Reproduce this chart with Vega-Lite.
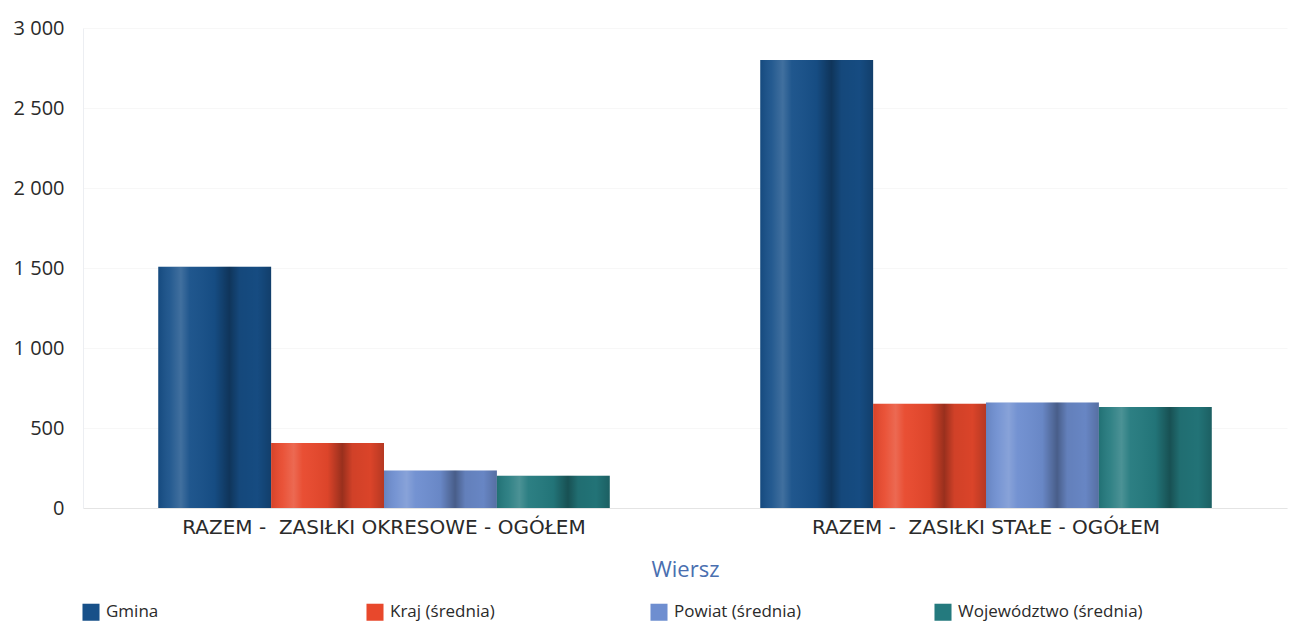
{
  "$schema": "https://vega.github.io/schema/vega-lite/v6.json",
  "width": 1204,
  "height": 480,
  "autosize": {"type": "none"},
  "padding": {"left": 83, "top": 28, "right": 3, "bottom": 119},
  "background": "white",
  "config": {
    "font": "Open Sans",
    "view": {"stroke": null},
    "axis": {"labelFont": "Open Sans", "titleFont": "Open Sans"}
  },
  "data": {
    "values": [
      {"wiersz": "RAZEM -\u00a0 ZASIŁKI OKRESOWE - OGÓŁEM", "seria": "Gmina", "wartosc": 1508},
      {"wiersz": "RAZEM -\u00a0 ZASIŁKI OKRESOWE - OGÓŁEM", "seria": "Kraj (średnia)", "wartosc": 406},
      {"wiersz": "RAZEM -\u00a0 ZASIŁKI OKRESOWE - OGÓŁEM", "seria": "Powiat (średnia)", "wartosc": 235},
      {"wiersz": "RAZEM -\u00a0 ZASIŁKI OKRESOWE - OGÓŁEM", "seria": "Województwo (średnia)", "wartosc": 202},
      {"wiersz": "RAZEM -\u00a0 ZASIŁKI STAŁE - OGÓŁEM", "seria": "Gmina", "wartosc": 2800},
      {"wiersz": "RAZEM -\u00a0 ZASIŁKI STAŁE - OGÓŁEM", "seria": "Kraj (średnia)", "wartosc": 652},
      {"wiersz": "RAZEM -\u00a0 ZASIŁKI STAŁE - OGÓŁEM", "seria": "Powiat (średnia)", "wartosc": 659},
      {"wiersz": "RAZEM -\u00a0 ZASIŁKI STAŁE - OGÓŁEM", "seria": "Województwo (średnia)", "wartosc": 632}
    ]
  },
  "encoding": {
    "x": {
      "field": "wiersz",
      "type": "nominal",
      "sort": null,
      "scale": {"paddingInner": 0.25, "paddingOuter": 0.125},
      "axis": {
        "title": "Wiersz",
        "titleColor": "#4a6fb0",
        "titleFontSize": 22,
        "titleFontWeight": "normal",
        "titlePadding": 22,
        "labelAngle": 0,
        "labelFont": "DejaVu Sans",
        "labelFontSize": 20,
        "labelColor": "#2a2a2a",
        "labelPadding": 9,
        "labelLimit": 700,
        "ticks": false,
        "domainColor": "#e4e4e4",
        "grid": false
      }
    },
    "xOffset": {
      "field": "seria",
      "type": "nominal",
      "scale": {"domain": ["Gmina", "Kraj (średnia)", "Powiat (średnia)", "Województwo (średnia)"], "paddingInner": 0, "paddingOuter": 0}
    },
    "y": {
      "field": "wartosc",
      "type": "quantitative",
      "scale": {"domain": [0, 3000]},
      "axis": {
        "title": null,
        "values": [0, 500, 1000, 1500, 2000, 2500, 3000],
        "labelExpr": "replace(format(datum.value, ','), ',', ' ')",
        "labelFontSize": 20,
        "labelColor": "#2a2a2a",
        "labelPadding": 19,
        "ticks": false,
        "domainColor": "#eceef2",
        "gridColor": "#f7f7f7"
      }
    }
  },
  "layer": [
    {
      "mark": {"type": "bar"},
      "encoding": {
        "color": {
          "field": "seria",
          "type": "nominal",
          "scale": {
            "domain": ["Gmina", "Kraj (średnia)", "Powiat (średnia)", "Województwo (średnia)"],
            "range": ["#175089", "#e8482c", "#6e8ed0", "#247a7e"]
          },
          "legend": {
            "title": null,
            "orient": "none",
            "legendX": -1,
            "legendY": 575,
            "direction": "horizontal",
            "columns": 4,
            "gridAlign": "all",
            "columnPadding": 75,
            "symbolType": "square",
            "symbolSize": 290,
            "symbolStrokeWidth": 0,
            "symbolOpacity": 1,
            "labelFontSize": 17,
            "labelColor": "#2a2a2a",
            "labelOffset": 6,
            "labelLimit": 400
          }
        }
      }
    },
    {
      "mark": {
        "type": "bar",
        "color": {
          "gradient": "linear",
          "x1": 0, "x2": 1, "y1": 0, "y2": 0,
          "stops": [
            {"offset": 0, "color": "rgba(0,0,0,0.08)"},
            {"offset": 0.1, "color": "rgba(255,255,255,0.06)"},
            {"offset": 0.2, "color": "rgba(255,255,255,0.18)"},
            {"offset": 0.28, "color": "rgba(255,255,255,0.04)"},
            {"offset": 0.5, "color": "rgba(0,0,0,0.05)"},
            {"offset": 0.63, "color": "rgba(0,0,0,0.34)"},
            {"offset": 0.72, "color": "rgba(0,0,0,0.1)"},
            {"offset": 0.88, "color": "rgba(0,0,0,0.06)"},
            {"offset": 1, "color": "rgba(0,0,0,0.22)"}
          ]
        }
      }
    }
  ]
}
